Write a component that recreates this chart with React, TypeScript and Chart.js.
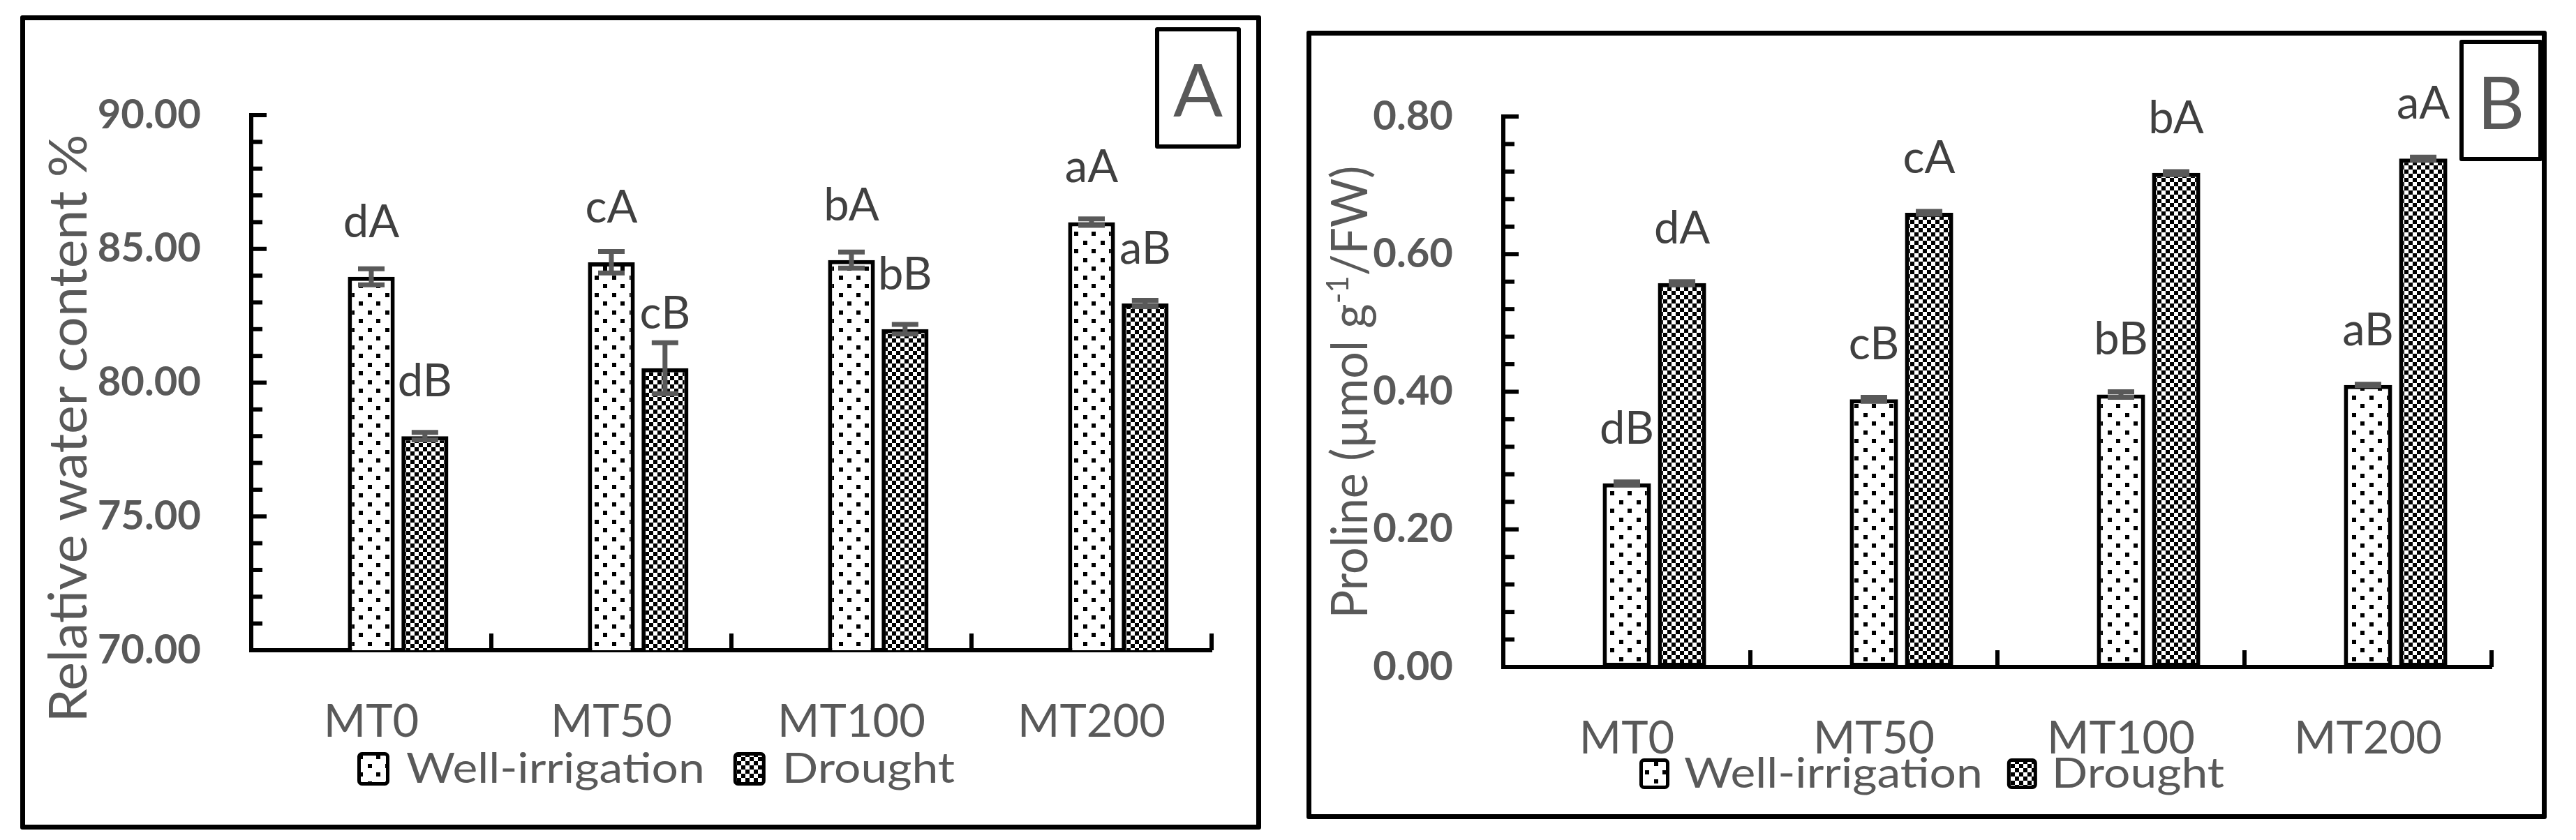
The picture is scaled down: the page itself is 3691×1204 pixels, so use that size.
import React, { useEffect, useRef } from 'react';
import { Chart, registerables } from 'chart.js';

Chart.register(...registerables);

const treatments = ['MT0', 'MT50', 'MT100', 'MT200'];
const seriesNames = ['Well-irrigation', 'Drought'];

// panel A: relative water content %
const rwcWell = [83.96, 84.5, 84.58, 86.0];
const rwcDrought = [78.0, 80.54, 82.0, 82.96];
const rwcWellErr = [0.3, 0.4, 0.3, 0.12];
const rwcDroughtErr = [0.14, 0.95, 0.18, 0.12];
const rwcWellLetters = ['dA', 'cA', 'bA', 'aA'];
const rwcDroughtLetters = ['dB', 'cB', 'bB', 'aB'];
const rwcTicks = [70, 75, 80, 85, 90];

// panel B: proline
const proWell = [0.267, 0.389, 0.396, 0.41];
const proDrought = [0.558, 0.66, 0.718, 0.739];
const proWellErr = [0.002, 0.003, 0.004, 0.001];
const proDroughtErr = [0.002, 0.002, 0.002, 0.002];
const proWellLetters = ['dB', 'cB', 'bB', 'aB'];
const proDroughtLetters = ['dA', 'cA', 'bA', 'aA'];
const proTicks = [0, 0.2, 0.4, 0.6, 0.8];

const FONT = 'Lato, "Open Sans", sans-serif';
const GREY = '#595959';
const DARK = '#404040';

function makePattern(kind: 'dots' | 'checks'): CanvasPattern {
  const c = document.createElement('canvas');
  const g = c.getContext('2d')!;
  if (kind === 'dots') {
    c.width = 25;
    c.height = 25;
    g.fillStyle = '#fff';
    g.fillRect(0, 0, 25, 25);
    g.fillStyle = '#000';
    g.fillRect(3, 3, 6, 6);
    g.fillRect(16, 16, 6, 6);
  } else {
    c.width = 12;
    c.height = 12;
    g.fillStyle = '#000';
    g.fillRect(0, 0, 12, 12);
    g.fillStyle = '#fff';
    g.fillRect(0, 0, 6, 6);
    g.fillRect(6, 6, 6, 6);
  }
  return g.createPattern(c, 'repeat')!;
}

interface TitlePart {
  text: string;
  sup?: boolean;
}

interface PanelSpec {
  width: number;
  height: number;
  area: { left: number; top: number; right: number; bottom: number };
  min: number;
  max: number;
  minorStep: number;
  majorTicks: number[];
  well: number[];
  drought: number[];
  wellErr: number[];
  droughtErr: number[];
  wellLetters: string[];
  droughtLetters: string[];
  title: TitlePart[];
  titleX: number;
  titleY: number;
  titleSize: number;
  titleLength: number;
  legend: { x: number; y: number; boxW: number; boxH: number; baseline: number; textGap: number; itemGap: number };
}

const panelA: PanelSpec = {
  width: 1764,
  height: 1153,
  area: { left: 324, top: 136, right: 1700, bottom: 903 },
  min: 70,
  max: 90,
  minorStep: 1,
  majorTicks: rwcTicks,
  well: rwcWell,
  drought: rwcDrought,
  wellErr: rwcWellErr,
  droughtErr: rwcDroughtErr,
  wellLetters: rwcWellLetters,
  droughtLetters: rwcDroughtLetters,
  title: [{ text: 'Relative water content %' }],
  titleX: 88,
  titleY: 585,
  titleSize: 75,
  titleLength: 843,
  legend: { x: 476, y: 1049, boxW: 46, boxH: 48, baseline: 1093, textGap: 24, itemGap: 41 },
};

const panelB: PanelSpec = {
  width: 1763,
  height: 1116,
  area: { left: 275, top: 116, right: 1691, bottom: 905 },
  min: 0,
  max: 0.8,
  minorStep: 0.04,
  majorTicks: proTicks,
  well: proWell,
  drought: proDrought,
  wellErr: proWellErr,
  droughtErr: proDroughtErr,
  wellLetters: proWellLetters,
  droughtLetters: proDroughtLetters,
  title: [{ text: 'Proline (\u00B5mol g' }, { text: '-1', sup: true }, { text: '/FW)' }],
  titleX: 80,
  titleY: 511,
  titleSize: 71,
  titleLength: 649,
  legend: { x: 470, y: 1036, boxW: 43, boxH: 44, baseline: 1078, textGap: 21, itemGap: 35 },
};

const LEGEND_STRETCH = 1.13;

const isMajor = (v: number, majors: number[]) => majors.some((m) => Math.abs(m - v) < 1e-6);

const Panel: React.FC<{ spec: PanelSpec; left: number; top: number }> = ({ spec, left, top }) => {
  const canvasRef = useRef<HTMLCanvasElement | null>(null);

  useEffect(() => {
    if (!canvasRef.current) return;
    const dots = makePattern('dots');
    const checks = makePattern('checks');
    const fills = [dots, checks];
    const errs = [spec.wellErr, spec.droughtErr];
    const letters = [spec.wellLetters, spec.droughtLetters];

    const decorations = {
      id: 'decorations',
      afterDatasetsDraw(chart: Chart) {
        const { ctx, chartArea } = chart;
        const xs: any = chart.scales.x;
        const ys: any = chart.scales.y;
        ctx.save();

        // inward tick marks
        ctx.strokeStyle = '#000';
        ctx.lineWidth = 6;
        ys.ticks.forEach((t: any) => {
          const p = ys.getPixelForValue(t.value);
          const len = isMajor(t.value, spec.majorTicks) ? 22 : 16;
          ctx.beginPath();
          ctx.moveTo(chartArea.left, p);
          ctx.lineTo(chartArea.left + len, p);
          ctx.stroke();
        });
        for (let i = 0; i <= treatments.length; i++) {
          const p = xs.getPixelForValue(i - 0.5);
          ctx.beginPath();
          ctx.moveTo(p, chartArea.bottom);
          ctx.lineTo(p, chartArea.bottom - 24);
          ctx.stroke();
        }

        // error bars
        ctx.strokeStyle = GREY;
        ctx.lineWidth = 7;
        [1, 2].forEach((di, k) => {
          const meta = chart.getDatasetMeta(di);
          const vals = chart.data.datasets[di].data as number[];
          meta.data.forEach((bar: any, j: number) => {
            const yTop = ys.getPixelForValue(vals[j] + errs[k][j]);
            const yBot = ys.getPixelForValue(vals[j] - errs[k][j]);
            ctx.beginPath();
            ctx.moveTo(bar.x, yTop);
            ctx.lineTo(bar.x, yBot);
            ctx.moveTo(bar.x - 19, yTop);
            ctx.lineTo(bar.x + 19, yTop);
            ctx.moveTo(bar.x - 19, yBot);
            ctx.lineTo(bar.x + 19, yBot);
            ctx.stroke();
          });
        });

        // significance letters
        ctx.fillStyle = DARK;
        ctx.font = `65px ${FONT}`;
        ctx.textAlign = 'center';
        ctx.textBaseline = 'alphabetic';
        [1, 2].forEach((di, k) => {
          const meta = chart.getDatasetMeta(di);
          const vals = chart.data.datasets[di].data as number[];
          meta.data.forEach((bar: any, j: number) => {
            ctx.fillText(letters[k][j], bar.x, ys.getPixelForValue(vals[j]) - 57);
          });
        });

        // axis title, stretched along its run to the source length
        ctx.fillStyle = GREY;
        ctx.translate(spec.titleX, spec.titleY);
        ctx.rotate(-Math.PI / 2);
        ctx.textAlign = 'left';
        const fontFor = (p: TitlePart) => `${p.sup ? Math.round(spec.titleSize * 0.62) : spec.titleSize}px ${FONT}`;
        let total = 0;
        spec.title.forEach((p) => {
          ctx.font = fontFor(p);
          total += ctx.measureText(p.text).width;
        });
        ctx.scale(spec.titleLength / total, 1);
        let cx = -total / 2;
        spec.title.forEach((p) => {
          ctx.font = fontFor(p);
          ctx.fillText(p.text, cx, p.sup ? -spec.titleSize * 0.38 : 0);
          cx += ctx.measureText(p.text).width;
        });
        ctx.restore();

        // legend
        const lg = spec.legend;
        ctx.save();
        ctx.font = `60px ${FONT}`;
        ctx.textBaseline = 'alphabetic';
        ctx.textAlign = 'left';
        let x = lg.x;
        seriesNames.forEach((name, k) => {
          ctx.beginPath();
          ctx.roundRect(x + 2.5, lg.y + 2.5, lg.boxW - 5, lg.boxH - 5, 4);
          ctx.fillStyle = fills[k];
          ctx.fill();
          ctx.strokeStyle = '#000';
          ctx.lineWidth = 5;
          ctx.stroke();
          ctx.fillStyle = GREY;
          const tx = x + lg.boxW + lg.textGap;
          ctx.save();
          ctx.translate(tx, lg.baseline);
          ctx.scale(LEGEND_STRETCH, 1);
          ctx.fillText(name, 0, 0);
          ctx.restore();
          x = tx + ctx.measureText(name).width * LEGEND_STRETCH + lg.itemGap;
        });
        ctx.restore();
      },
    };

    const chart = new Chart(canvasRef.current, {
      type: 'bar',
      data: {
        labels: treatments,
        datasets: [
          // empty leading series, as in the source sheet, keeps the bars right of centre
          { label: '', data: treatments.map(() => null) as any, backgroundColor: 'transparent' },
          {
            label: seriesNames[0],
            data: spec.well,
            backgroundColor: dots,
            borderColor: '#000',
            borderWidth: 6,
            borderSkipped: false,
          },
          {
            label: seriesNames[1],
            data: spec.drought,
            backgroundColor: checks,
            borderColor: '#000',
            borderWidth: 6,
            borderSkipped: false,
          },
        ],
      },
      options: {
        responsive: false,
        animation: false,
        devicePixelRatio: 1,
        datasets: { bar: { categoryPercentage: 0.67, barPercentage: 0.875 } },
        layout: { padding: { top: spec.area.top, right: spec.width - spec.area.right, left: 0, bottom: 0 } },
        plugins: { legend: { display: false }, tooltip: { enabled: false } },
        scales: {
          x: {
            grid: { display: false },
            border: { display: true, color: '#000', width: 6 },
            ticks: { color: GREY, font: { family: FONT, size: 65 }, padding: 56, maxRotation: 0, autoSkip: false },
            afterFit: (s: any) => {
              s.height = spec.height - spec.area.bottom;
            },
          },
          y: {
            min: spec.min,
            max: spec.max,
            grid: { display: false },
            border: { display: true, color: '#000', width: 6 },
            ticks: {
              stepSize: spec.minorStep,
              autoSkip: false,
              color: GREY,
              padding: 64,
              font: { family: FONT, size: 58, weight: 'bold' },
              callback: (v: any) => (isMajor(Number(v), spec.majorTicks) ? Number(v).toFixed(2) : ''),
            },
            afterFit: (s: any) => {
              s.width = spec.area.left;
            },
          },
        },
      },
      plugins: [decorations],
    });

    return () => chart.destroy();
  }, [spec]);

  return (
    <canvas
      ref={canvasRef}
      width={spec.width}
      height={spec.height}
      style={{ position: 'absolute', left, top, width: spec.width, height: spec.height }}
    />
  );
};

const frame = (left: number, top: number, width: number, height: number, border: number): React.CSSProperties => ({
  position: 'absolute',
  left,
  top,
  width,
  height,
  border: `${border}px solid #000`,
  borderRadius: 3,
  boxSizing: 'border-box',
});

const letterBox: React.CSSProperties = {
  display: 'flex',
  alignItems: 'center',
  justifyContent: 'center',
  fontFamily: FONT,
  fontSize: 105,
  color: GREY,
  background: '#fff',
};

export default function App() {
  return (
    <div style={{ position: 'absolute', left: 0, top: 0, width: 3691, height: 1204, background: '#fff', overflow: 'hidden' }}>
      <div style={frame(29, 22, 1778, 1167, 7)} />
      <div style={frame(1872, 44, 1777, 1130, 7)} />
      <Panel spec={panelA} left={36} top={29} />
      <Panel spec={panelB} left={1879} top={51} />
      <div style={{ ...frame(1655, 39, 123, 174, 6), ...letterBox }}>A</div>
      <div style={{ ...frame(3524, 57, 119, 174, 6), ...letterBox }}>B</div>
    </div>
  );
}
